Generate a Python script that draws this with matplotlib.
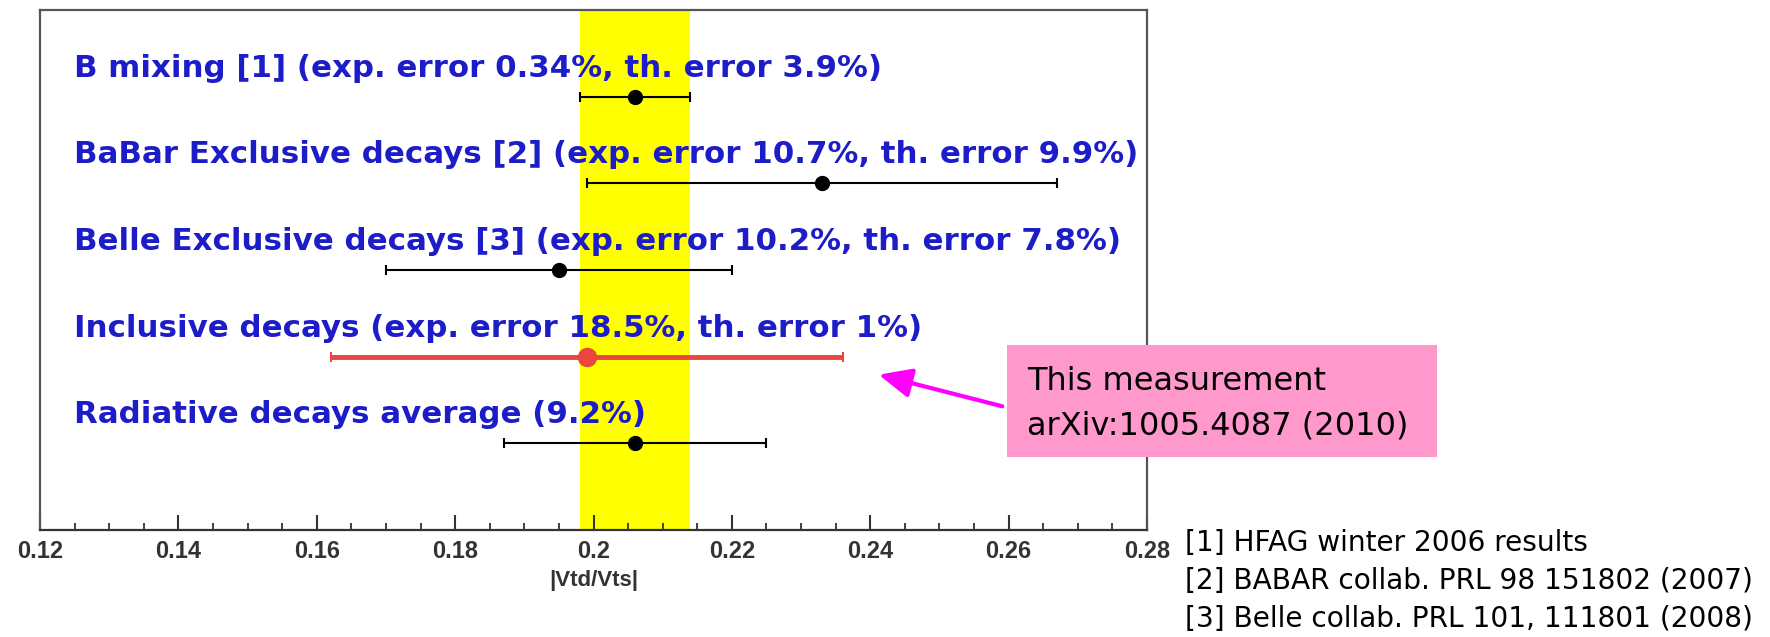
import numpy as np
import matplotlib.pyplot as plt
from matplotlib.ticker import MultipleLocator, FuncFormatter
from matplotlib.patches import Rectangle, FancyArrowPatch

# |Vtd/Vts| determinations: central value and lower/upper edge of the error bar
labels = [
    "B mixing [1] (exp. error 0.34%, th. error 3.9%)",
    "BaBar Exclusive decays [2] (exp. error 10.7%, th. error 9.9%)",
    "Belle Exclusive decays [3] (exp. error 10.2%, th. error 7.8%)",
    "Inclusive decays (exp. error 18.5%, th. error 1%)",
    "Radiative decays average (9.2%)",
]
central = [0.206, 0.233, 0.195, 0.199, 0.206]
lower = [0.198, 0.199, 0.170, 0.162, 0.187]
upper = [0.214, 0.267, 0.220, 0.236, 0.225]
highlight = 3  # this measurement

references = [
    "[1] HFAG winter 2006 results",
    "[2] BABAR collab. PRL 98 151802 (2007)",
    "[3] Belle collab. PRL 101, 111801 (2008)",
]
note_lines = ["This measurement", "arXiv:1005.4087 (2010)"]

W, H = 1770, 637
fig = plt.figure(figsize=(W / 100, H / 100), dpi=100)
ax = fig.add_axes([40 / W, 1 - 530 / H, (1147 - 40) / W, (530 - 10) / H])

ax.set_xlim(0.12, 0.28)
ax.set_ylim(len(labels) + 1, 0)

# yellow band = B mixing range
ax.axvspan(lower[0], upper[0], color="#ffff00", zorder=0, lw=0)

for i, (lab, c, lo, hi) in enumerate(zip(labels, central, lower, upper)):
    y = i + 1
    red = i == highlight
    ax.errorbar(c, y, xerr=[[c - lo], [hi - c]], fmt="o",
                color="#e8463e" if red else "black",
                ms=13 if red else 10, elinewidth=3.5 if red else 1.5,
                capsize=3.5, capthick=1.5, zorder=3)
    ax.text(0.1249, y - 0.33, lab, va="center", ha="left",
            family="DejaVu Sans", weight="bold", size=22.2, color="#1c1cc8")

ax.xaxis.set_major_locator(MultipleLocator(0.02))
ax.xaxis.set_minor_locator(MultipleLocator(0.005))
ax.xaxis.set_major_formatter(FuncFormatter(lambda v, p: f"{v:g}"))
ax.tick_params(axis="x", which="major", direction="in", length=11, width=1.5,
               pad=7, labelsize=17, labelcolor="#333333", color="#333333")
ax.tick_params(axis="x", which="minor", direction="in", length=5, width=1.3,
               color="#333333")
ax.tick_params(axis="y", left=False, labelleft=False)
for lbl in ax.get_xticklabels():
    lbl.set_fontweight("bold")
    lbl.set_family(["Liberation Sans", "DejaVu Sans"])
for sp in ax.spines.values():
    sp.set_color("#555555")
    sp.set_linewidth(1.6)
ax.spines["bottom"].set_color("#333333")

ax.set_xlabel("|Vtd/Vts|", fontsize=16, fontweight="bold", color="#333333",
              family=["Liberation Sans", "DejaVu Sans"], labelpad=5)

# pink note box with arrow to the inclusive result
fig.patches.append(Rectangle((1007 / W, 1 - 457 / H), 430 / W, 112 / H,
                             transform=fig.transFigure, facecolor="#ff99cc",
                             edgecolor="none", zorder=5))
for k, line in enumerate(note_lines):
    fig.text(1027 / W, 1 - (381 + 45 * k) / H, line, fontsize=23,
             family="DejaVu Sans", va="center", ha="left", zorder=6)
fig.add_artist(FancyArrowPatch((1005 / W, 1 - 407 / H), (876 / W, 1 - 374 / H),
                               transform=fig.transFigure, color="#ff00ff",
                               arrowstyle="-|>,head_length=20,head_width=9",
                               lw=3, mutation_scale=1, zorder=6))

for k, ref in enumerate(references):
    fig.text(1185 / W, 1 - (543 + 38 * k) / H, ref, fontsize=20.2,
             family="DejaVu Sans", va="center", ha="left")

fig.savefig("out.png", dpi=100)
